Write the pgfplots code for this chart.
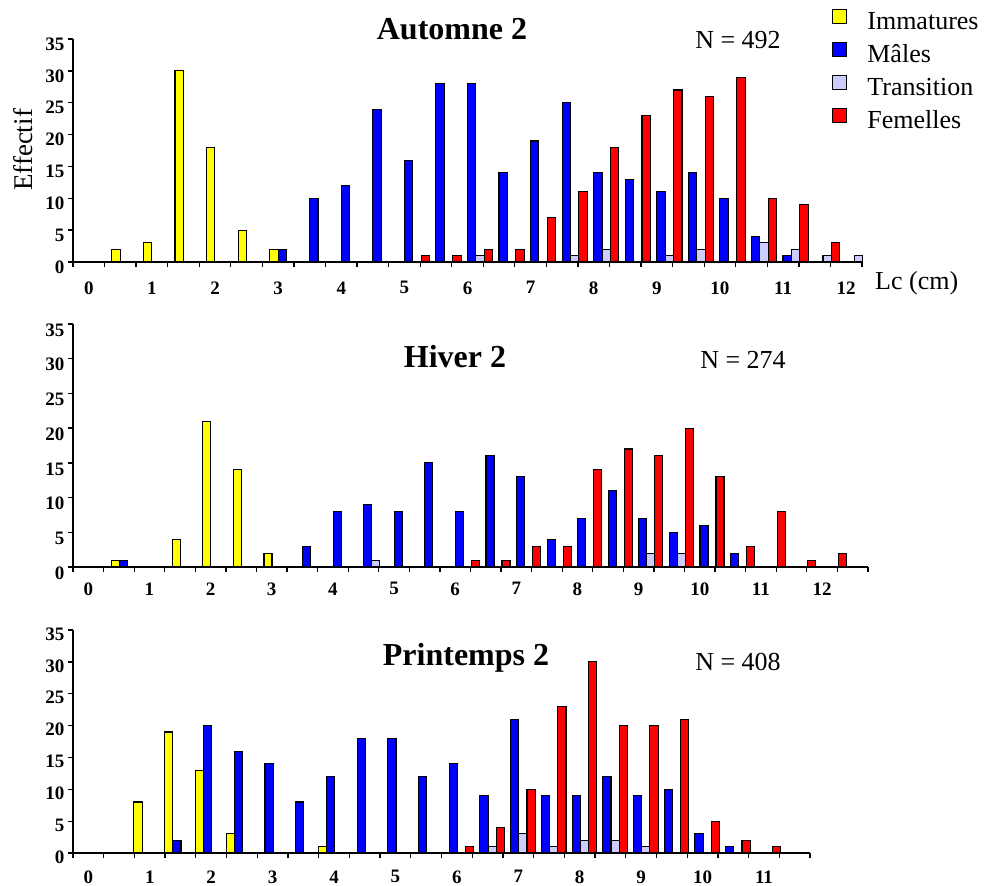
\documentclass[border=0pt]{standalone}
\usepackage{fontspec}
\setmainfont{Liberation Serif}
\usepackage{pgfplots}
\pgfplotsset{compat=1.18}
\definecolor{imm}{RGB}{255,255,0}
\definecolor{mal}{RGB}{0,0,255}
\definecolor{tra}{RGB}{204,204,255}
\definecolor{fem}{RGB}{255,0,0}
\pgfplotsset{
  panel/.style={
    anchor=south west,
    axis lines=left,
    axis line style={-, line width=1.5pt},
    xmin=0, ymin=0, ymax=35,
    ytick={0,5,...,35},
    tick align=outside,
    major tick length=5pt,
    tick style={line width=1.3pt, black},
    /pgf/number format/assume math mode=true,
    tick label style={font=\fontsize{19}{21}\selectfont\bfseries},
    xticklabels={},
    extra x tick style={major tick length=0pt},
    extra x tick labels={0,1,2,3,4,5,6,7,8,9,10,11,12},
    clip=false,
  },
  bars/.style={ybar, draw=black, line width=1.1pt, bar width=#1, forget plot},
}
\begin{document}
\begin{tikzpicture}
\useasboundingbox (0pt,0pt) rectangle (986pt,-886pt);

% ---------------- Panel 1 : Automne 2 ----------------
\begin{axis}[panel, at={(73pt,-262pt)}, x=63.12pt, y=6.371pt, xmax=12.5,
  xtick={0,0.5,...,12.5},
  extra x ticks={0.25,1.25,2.25,3.25,4.25,5.25,6.25,7.25,8.25,9.25,10.25,11.25,12.25},
  xticklabel style={yshift=-16pt},
  yticklabel style={yshift=-5pt},
  legend style={at={(axis cs:11.98,40.13)}, anchor=north west, draw=none, fill=none,
    font=\fontsize{26}{28}\selectfont, column sep=18pt, row sep=5pt,
    nodes={text height=19pt, text depth=5pt, inner sep=2pt}},
  legend cell align=left]
\addplot[bars=8.4pt, bar shift=11.5pt, fill=imm] coordinates {(0.5,2) (1,3) (1.5,30) (2,18) (2.5,5) (3,2)};
\addplot[bars=8.4pt, bar shift=19.9pt, fill=mal] coordinates {(3,2) (3.5,10) (4,12) (4.5,24) (5,16) (5.5,28) (6,28) (6.5,14) (7,19) (7.5,25) (8,14) (8.5,13) (9,11) (9.5,14) (10,10) (10.5,4) (11,1)};
\addplot[bars=8.4pt, bar shift=28.3pt, fill=tra] coordinates {(6,1) (7.5,1) (8,2) (9,1) (9.5,2) (10.5,3) (11,2) (11.5,1) (12,1)};
\addplot[bars=8.4pt, bar shift=36.7pt, fill=fem] coordinates {(5,1) (5.5,1) (6,2) (6.5,2) (7,7) (7.5,11) (8,18) (8.5,23) (9,27) (9.5,26) (10,29) (10.5,10) (11,9) (11.5,3)};
\addlegendimage{legend image code/.code={\draw[fill=imm,draw=black,line width=1pt] (0pt,-1pt) rectangle (14pt,13pt);}}
\addlegendentry{Immatures}
\addlegendimage{legend image code/.code={\draw[fill=mal,draw=black,line width=1pt] (0pt,-1pt) rectangle (14pt,13pt);}}
\addlegendentry{Mâles}
\addlegendimage{legend image code/.code={\draw[fill=tra,draw=black,line width=1pt] (0pt,-1pt) rectangle (14pt,13pt);}}
\addlegendentry{Transition}
\addlegendimage{legend image code/.code={\draw[fill=fem,draw=black,line width=1pt] (0pt,-1pt) rectangle (14pt,13pt);}}
\addlegendentry{Femelles}
\end{axis}

% ---------------- Panel 2 : Hiver 2 ----------------
\begin{axis}[panel, at={(73pt,-567pt)}, x=61.15pt, y=6.943pt, xmax=13,
  xtick={0,0.5,...,13},
  extra x ticks={0.25,1.25,2.25,3.25,4.25,5.25,6.25,7.25,8.25,9.25,10.25,11.25,12.25},
  xticklabel style={yshift=-12pt},
  yticklabel style={yshift=-6pt}]
\addplot[bars=8pt, bar shift=11.5pt, fill=imm] coordinates {(0.5,1) (1.5,4) (2,21) (2.5,14) (3,2)};
\addplot[bars=8pt, bar shift=19.5pt, fill=mal] coordinates {(0.5,1) (3.5,3) (4,8) (4.5,9) (5,8) (5.5,15) (6,8) (6.5,16) (7,13) (7.5,4) (8,7) (8.5,11) (9,7) (9.5,5) (10,6) (10.5,2)};
\addplot[bars=8pt, bar shift=27.5pt, fill=tra] coordinates {(4.5,1) (9,2) (9.5,2)};
\addplot[bars=8pt, bar shift=35.5pt, fill=fem] coordinates {(6,1) (6.5,1) (7,3) (7.5,3) (8,14) (8.5,17) (9,16) (9.5,20) (10,13) (10.5,3) (11,8) (11.5,1) (12,2)};
\end{axis}

% ---------------- Panel 3 : Printemps 2 ----------------
\begin{axis}[panel, at={(73pt,-853pt)}, x=61.42pt, y=6.371pt, xmax=12,
  xtick={0,0.5,...,12},
  extra x ticks={0.25,1.25,2.25,3.25,4.25,5.25,6.25,7.25,8.25,9.25,10.25,11.25},
  extra x tick labels={0,1,2,3,4,5,6,7,8,9,10,11},
  xticklabel style={yshift=-14pt},
  yticklabel style={yshift=-4pt}]
\addplot[bars=8.2pt, bar shift=3.6pt, fill=imm] coordinates {(1,8) (1.5,19) (2,13) (2.5,3) (4,1)};
\addplot[bars=8.2pt, bar shift=11.8pt, fill=mal] coordinates {(1.5,2) (2,20) (2.5,16) (3,14) (3.5,8) (4,12) (4.5,18) (5,18) (5.5,12) (6,14) (6.5,9) (7,21) (7.5,9) (8,9) (8.5,12) (9,9) (9.5,10) (10,3) (10.5,1)};
\addplot[bars=8.2pt, bar shift=20pt, fill=tra] coordinates {(6.5,1) (7,3) (7.5,1) (8,2) (8.5,2) (9,1)};
\addplot[bars=8.2pt, bar shift=28.2pt, fill=fem] coordinates {(6,1) (6.5,4) (7,10) (7.5,23) (8,30) (8.5,20) (9,20) (9.5,21) (10,5) (10.5,2) (11,1)};
\end{axis}

% ---------------- Texts ----------------
\node[anchor=base, font=\fontsize{32}{36}\selectfont\bfseries, inner sep=0pt] at (452pt,-39pt) {Automne 2};
\node[anchor=base, font=\fontsize{26}{30}\selectfont, inner sep=0pt] at (738pt,-48pt) {N = 492};
\node[anchor=base, font=\fontsize{32}{36}\selectfont\bfseries, inner sep=0pt] at (455pt,-367pt) {Hiver 2};
\node[anchor=base, font=\fontsize{26}{30}\selectfont, inner sep=0pt] at (743pt,-368pt) {N = 274};
\node[anchor=base, font=\fontsize{32}{36}\selectfont\bfseries, inner sep=0pt] at (466pt,-665pt) {Printemps 2};
\node[anchor=base, font=\fontsize{26}{30}\selectfont, inner sep=0pt] at (738pt,-670pt) {N = 408};
\node[anchor=base west, font=\fontsize{26}{30}\selectfont, inner sep=0pt] at (875pt,-289pt) {Lc (cm)};
\node[anchor=base, rotate=90, font=\fontsize{27}{30}\selectfont, inner sep=0pt] at (32pt,-150pt) {Effectif};
\end{tikzpicture}
\end{document}
